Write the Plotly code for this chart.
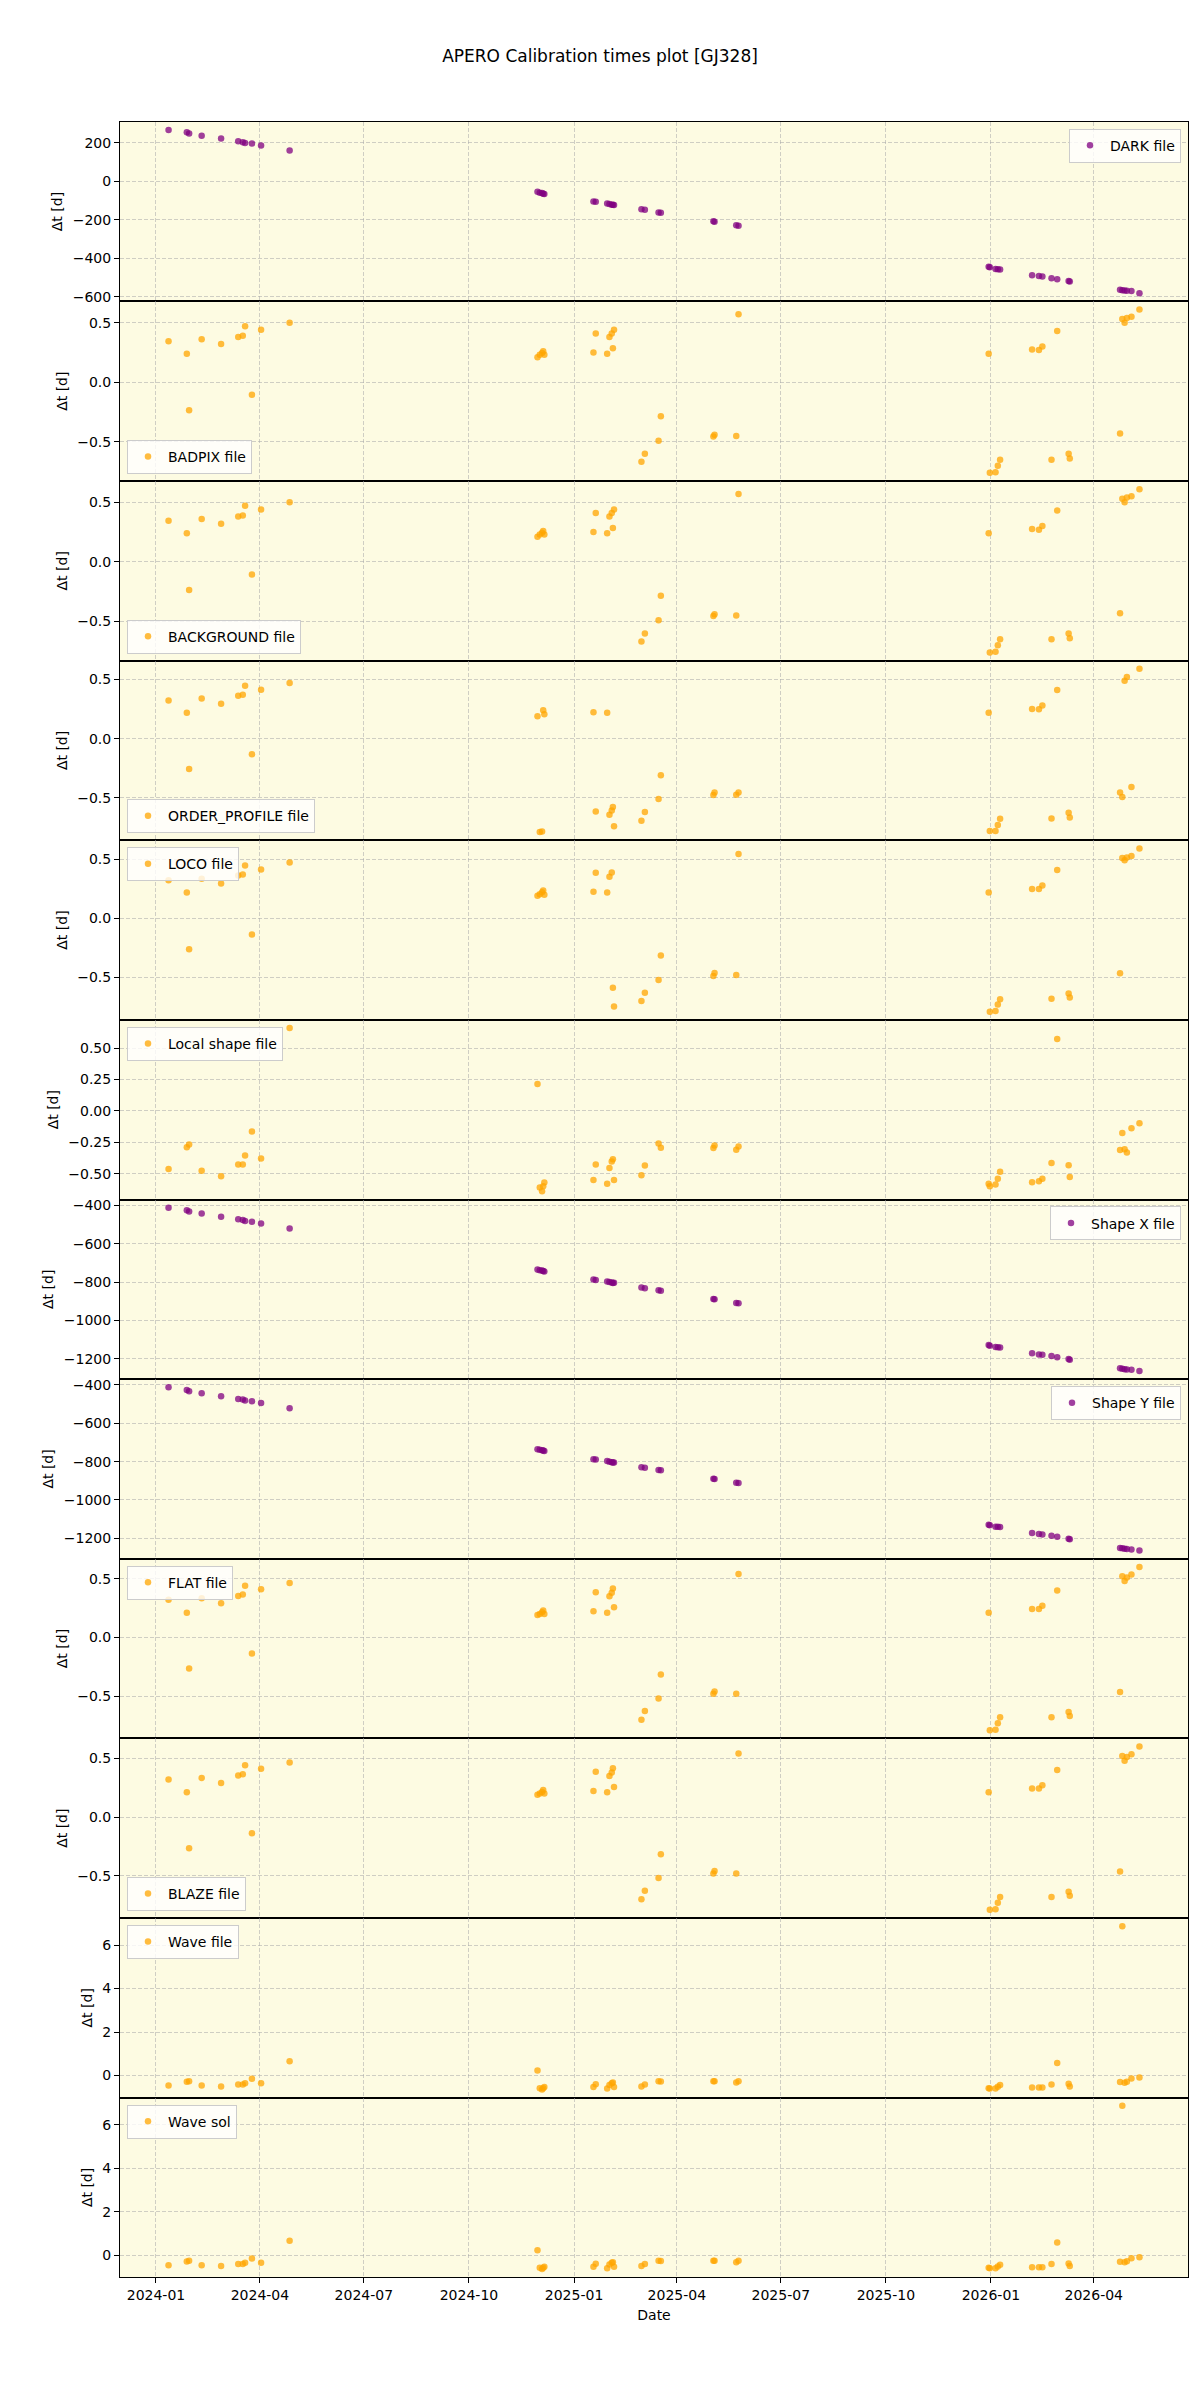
import plotly.graph_objects as go
import pandas as pd

dates = ["2024-01-12", "2024-01-28", "2024-01-30", "2024-02-10", "2024-02-27", "2024-03-13",
         "2024-03-17", "2024-03-19", "2024-03-25", "2024-04-02", "2024-04-27",
         "2024-11-30", "2024-12-02", "2024-12-04", "2024-12-05", "2024-12-06", "2025-01-18",
         "2025-01-20", "2025-01-30", "2025-02-01", "2025-02-03", "2025-02-04", "2025-02-05",
         "2025-03-01", "2025-03-04", "2025-03-16", "2025-03-18", "2025-05-03", "2025-05-04",
         "2025-05-23", "2025-05-25",
         "2025-12-30", "2025-12-31", "2026-01-05", "2026-01-07", "2026-01-09", "2026-02-06",
         "2026-02-12", "2026-02-15", "2026-02-23", "2026-02-28", "2026-03-10", "2026-03-11",
         "2026-04-24", "2026-04-26", "2026-04-28", "2026-04-30", "2026-05-04", "2026-05-11"]

dark_dt = [268, 256, 249, 238, 223, 209, 204, 200, 197, 187, 161,
           -54, -59, -60, -64, -65, -104, -105, -114, -117, -121, -121, -122, -145, -147, -161, -163,
           -207, -209, -228, -230,
           -444, -446, -455, -457, -458, -487, -492, -494, -503, -508, -518, -520, -563, -565, -567,
           -568, -570, -581]

badpix_dt = [0.345, 0.24, -0.235, 0.36, 0.32, 0.38, 0.39, 0.47, -0.105, 0.44, 0.50,
             0.21, 0.23, 0.245, 0.26, 0.23, 0.25, 0.41, 0.24, 0.38, 0.41, 0.285, 0.44, -0.667, -0.60,
             -0.49, -0.285, -0.455, -0.44, -0.45, 0.57,
             0.24, -0.76, -0.755, -0.70, -0.65, 0.275, 0.27, 0.30, -0.65, 0.43, -0.60, -0.64, -0.43,
             0.53, 0.50, 0.54, 0.55, 0.61]

background_dt = [0.345, 0.24, -0.235, 0.36, 0.32, 0.38, 0.39, 0.47, -0.105, 0.44, 0.50,
                 0.21, 0.23, 0.245, 0.26, 0.23, 0.25, 0.41, 0.24, 0.38, 0.41, 0.285, 0.44, -0.667, -0.60,
                 -0.49, -0.285, -0.455, -0.44, -0.45, 0.57,
                 0.24, -0.76, -0.755, -0.70, -0.65, 0.275, 0.27, 0.30, -0.65, 0.43, -0.60, -0.64, -0.43,
                 0.53, 0.50, 0.54, 0.55, 0.61]

order_profile_dt = [0.322, 0.218, -0.257, 0.339, 0.294, 0.362, 0.37, 0.446, -0.133, 0.412, 0.469,
                    0.19, -0.79, -0.785, 0.24, 0.206, 0.223, -0.616, 0.218, -0.644, -0.607, -0.579, -0.74,
                    -0.695, -0.62, -0.511, -0.31, -0.477, -0.455, -0.474, -0.455,
                    0.218, -0.78, -0.78, -0.73, -0.678, 0.25, 0.249, 0.28, -0.675, 0.41, -0.627, -0.667,
                    -0.455, -0.494, 0.49, 0.52, -0.41, 0.59]

loco_dt = [0.322, 0.218, -0.263, 0.333, 0.294, 0.362, 0.37, 0.446, -0.138, 0.412, 0.472,
           0.19, 0.203, 0.22, 0.234, 0.198, 0.223, 0.384, 0.218, 0.35, 0.387, -0.588, -0.746, -0.70,
           -0.63, -0.523, -0.314, -0.489, -0.463, -0.48, 0.542,
           0.218, -0.79, -0.785, -0.73, -0.684, 0.246, 0.246, 0.277, -0.68, 0.407, -0.636, -0.67,
           -0.466, 0.508, 0.489, 0.514, 0.525, 0.59]

local_shape_dt = [-0.462, -0.289, -0.268, -0.477, -0.52, -0.427, -0.427, -0.355, -0.164, -0.379, 0.66,
                  0.215, -0.61, -0.64, -0.60, -0.57, -0.549, -0.427, -0.58, -0.454, -0.403, -0.385, -0.549,
                  -0.512, -0.435, -0.26, -0.292, -0.294, -0.276, -0.308, -0.284,
                  -0.58, -0.60, -0.586, -0.54, -0.485, -0.568, -0.56, -0.54, -0.414, 0.573, -0.432, -0.525,
                  -0.31, -0.175, -0.305, -0.33, -0.138, -0.098]

shape_x_dt = [-412, -426, -432, -443, -459, -473, -476, -481, -485, -494, -521,
              -735, -738, -740, -742, -745, -787, -789, -797, -800, -803, -805, -804, -829, -832, -843,
              -845, -889, -890, -910, -911,
              -1129, -1132, -1139, -1140, -1141, -1172, -1178, -1180, -1186, -1192, -1202, -1205, -1250,
              -1252, -1255, -1256, -1258, -1264]

shape_y_dt = [-412, -426, -432, -443, -459, -473, -476, -481, -485, -494, -521,
              -735, -738, -740, -742, -745, -787, -789, -797, -800, -803, -805, -804, -829, -832, -843,
              -845, -889, -890, -910, -911,
              -1129, -1132, -1139, -1140, -1141, -1172, -1178, -1180, -1186, -1192, -1202, -1205, -1250,
              -1252, -1255, -1256, -1258, -1264]

flat_dt = [0.32, 0.21, -0.265, 0.333, 0.29, 0.353, 0.365, 0.44, -0.137, 0.41, 0.464,
           0.19, 0.20, 0.214, 0.23, 0.20, 0.222, 0.385, 0.21, 0.35, 0.38, 0.416, 0.256, -0.70, -0.627,
           -0.52, -0.316, -0.48, -0.46, -0.48, 0.54,
           0.21, -0.79, -0.786, -0.73, -0.68, 0.242, 0.242, 0.27, -0.68, 0.40, -0.635, -0.67, -0.464,
           0.52, 0.48, 0.51, 0.535, 0.60]

blaze_dt = [0.32, 0.21, -0.265, 0.333, 0.29, 0.353, 0.365, 0.44, -0.137, 0.41, 0.464,
            0.19, 0.20, 0.214, 0.23, 0.20, 0.222, 0.385, 0.21, 0.35, 0.38, 0.416, 0.256, -0.70, -0.627,
            -0.52, -0.316, -0.48, -0.46, -0.48, 0.54,
            0.21, -0.79, -0.786, -0.73, -0.68, 0.242, 0.242, 0.27, -0.68, 0.40, -0.635, -0.67, -0.464,
            0.52, 0.48, 0.51, 0.535, 0.60]

wave_file_dt = [-0.46, -0.29, -0.26, -0.46, -0.50, -0.41, -0.41, -0.35, -0.15, -0.35, 0.66,
                0.23, -0.58, -0.64, -0.58, -0.53, -0.53, -0.40, -0.60, -0.43, -0.35, -0.32, -0.53, -0.50,
                -0.41, -0.26, -0.27, -0.26, -0.26, -0.32, -0.26,
                -0.58, -0.60, -0.60, -0.52, -0.44, -0.55, -0.55, -0.55, -0.41, 0.58, -0.38, -0.50, -0.30,
                6.87, -0.33, -0.28, -0.14, -0.09]

wave_sol_dt = [-0.46, -0.29, -0.26, -0.46, -0.50, -0.41, -0.41, -0.35, -0.15, -0.35, 0.66,
               0.23, -0.58, -0.64, -0.58, -0.53, -0.53, -0.40, -0.60, -0.43, -0.35, -0.32, -0.53, -0.50,
               -0.41, -0.26, -0.27, -0.26, -0.26, -0.32, -0.26,
               -0.58, -0.60, -0.60, -0.52, -0.44, -0.55, -0.55, -0.55, -0.41, 0.58, -0.38, -0.50, -0.30,
               6.87, -0.33, -0.28, -0.14, -0.09]

PURPLE = "purple"
ORANGE = "orange"

panels = [
    ("DARK file", dark_dt, PURPLE, "ur", 200, None),
    ("BADPIX file", badpix_dt, ORANGE, "ll", 0.5, ".1f"),
    ("BACKGROUND file", background_dt, ORANGE, "ll", 0.5, ".1f"),
    ("ORDER_PROFILE file", order_profile_dt, ORANGE, "ll", 0.5, ".1f"),
    ("LOCO file", loco_dt, ORANGE, "ul", 0.5, ".1f"),
    ("Local shape file", local_shape_dt, ORANGE, "ul", 0.25, ".2f"),
    ("Shape X file", shape_x_dt, PURPLE, "ur", 200, None),
    ("Shape Y file", shape_y_dt, PURPLE, "ur", 200, None),
    ("FLAT file", flat_dt, ORANGE, "ul", 0.5, ".1f"),
    ("BLAZE file", blaze_dt, ORANGE, "ll", 0.5, ".1f"),
    ("Wave file", wave_file_dt, ORANGE, "ul", 2, None),
    ("Wave sol", wave_sol_dt, ORANGE, "ul", 2, None),
]

W, H = 1200, 2400
TOP, PH = 120, 180
XL, XR = 0.1, 0.99
PAD = 7
BG = "#fdfbe2"
GRID = "rgba(170,170,170,0.55)"
FONT = "DejaVu Sans"

t = pd.to_datetime(dates)
span = t.max() - t.min()
xrange = [t.min() - 0.05 * span, t.max() + 0.05 * span]

fig = go.Figure()
layout = {}
n = len(panels)
for i, (label, vals, color, loc, dtick, tfmt) in enumerate(panels):
    k = i + 1
    s = "" if k == 1 else str(k)
    y_top = 1 - (TOP + PH * i) / H
    y_bot = 1 - (TOP + PH * (i + 1)) / H
    lo, hi = min(vals), max(vals)
    m = 0.05 * (hi - lo)
    fig.add_trace(go.Scatter(
        x=dates, y=vals, mode="markers", name=label,
        marker=dict(color=color, size=6.5, opacity=0.75, line=dict(width=0)),
        xaxis="x" + s, yaxis="y" + s, legend="legend" + s, showlegend=True,
    ))
    bottom = (k == n)
    xa = dict(domain=[XL, XR], anchor="y" + s, type="date",
              showgrid=True, gridcolor=GRID, griddash="4px,2px", gridwidth=1,
              showline=True, mirror=True, linecolor="black", linewidth=1,
              dtick="M3", tick0="2024-01-01", tickformat="%Y-%m",
              showticklabels=bottom, ticks="outside" if bottom else "",
              ticklen=5, tickcolor="black", zeroline=False,
              tickfont=dict(size=14, family=FONT, color="black"))
    if k == 1:
        xa["range"] = xrange
    else:
        xa["matches"] = "x"
    if bottom:
        xa["title"] = dict(text="Date", font=dict(size=14, family=FONT), standoff=8)
    layout["xaxis" + s] = xa
    ya = dict(domain=[y_bot, y_top], anchor="x" + s, range=[lo - m, hi + m],
              dtick=dtick, tick0=0, showgrid=True, gridcolor=GRID, griddash="4px,2px", gridwidth=1,
              showline=True, mirror=True, linecolor="black", linewidth=1,
              ticks="outside", ticklen=5, tickcolor="black", zeroline=False,
              tickfont=dict(size=14, family=FONT, color="black"),
              title=dict(text="Δt [d]", font=dict(size=14, family=FONT), standoff=6))
    if tfmt:
        ya["tickformat"] = tfmt
    layout["yaxis" + s] = ya
    if loc == "ur":
        lx, lxa = XR - PAD / W, "right"
        ly, lya = y_top - PAD / H, "top"
    elif loc == "ul":
        lx, lxa = XL + PAD / W, "left"
        ly, lya = y_top - PAD / H, "top"
    else:
        lx, lxa = XL + PAD / W, "left"
        ly, lya = y_bot + PAD / H, "bottom"
    layout["legend" + s] = dict(x=lx, y=ly, xanchor=lxa, yanchor=lya, xref="paper", yref="paper",
                                bgcolor="rgba(255,255,255,0.8)", bordercolor="#cccccc", borderwidth=1,
                                font=dict(size=14, family=FONT, color="black"), itemwidth=30)

fig.update_layout(**layout)
fig.update_layout(
    width=W, height=H, margin=dict(l=0, r=0, t=0, b=0),
    paper_bgcolor="white", plot_bgcolor=BG,
    font=dict(family=FONT, size=14, color="black"),
    title=dict(text="APERO Calibration times plot [GJ328]", x=0.5, xanchor="center",
               y=1 - 56 / H, yanchor="middle", font=dict(size=17, family=FONT, color="black")),
)

fig.write_html("out.html")
